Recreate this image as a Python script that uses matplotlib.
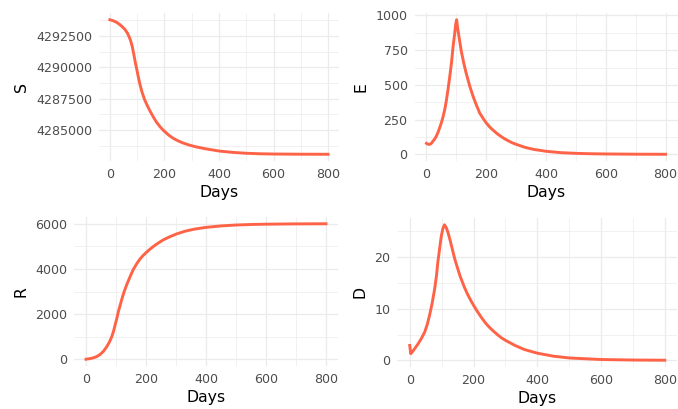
import matplotlib
matplotlib.use("Agg")
import matplotlib.pyplot as plt
from matplotlib.ticker import FixedLocator

# ---- data ----
s_days = [0, 12, 24, 35, 45, 55, 65, 75, 82, 88, 93, 98, 104, 110, 118, 128, 137, 146,
          158, 170, 184, 198, 215, 231, 250, 267, 290, 316, 350, 400, 450, 500, 550,
          600, 700, 800]
s_vals = [4293800, 4293720, 4293600, 4293430, 4293250, 4293030, 4292700, 4292200,
          4291650, 4291000, 4290400, 4289900, 4289250, 4288650, 4288000, 4287380,
          4286950, 4286560, 4286080, 4285650, 4285250, 4284930, 4284600, 4284350,
          4284130, 4283970, 4283800, 4283650, 4283500, 4283320, 4283210, 4283140,
          4283100, 4283080, 4283065, 4283060]

e_days = [0, 5, 10, 16, 22, 28, 33, 39, 44, 50, 56, 62, 67, 72, 78, 84, 89, 94, 98,
          101, 104, 109, 113, 117, 125, 133, 145, 156, 167, 178, 190, 200, 212, 225,
          237, 250, 262, 275, 287, 300, 330, 360, 400, 450, 500, 550, 600, 700, 800]
e_vals = [79, 73, 71, 78, 95, 112, 131, 160, 190, 228, 274, 330, 393, 465, 560, 665,
          774, 860, 940, 969, 915, 845, 790, 738, 655, 583, 490, 417, 355, 298, 257,
          226, 196, 170, 148, 128, 111, 96, 83, 72, 50, 35, 22, 12, 7, 4.3, 2.6, 1.0,
          0.4]

r_days = [0, 12, 24, 36, 47, 58, 69, 78, 86, 92, 97, 103, 108, 114, 119, 127, 136, 147,
          158, 170, 180, 190, 200, 212, 224, 240, 258, 280, 302, 330, 360, 400, 450,
          500, 550, 600, 700, 800]
r_vals = [0, 25, 60, 120, 210, 350, 550, 760, 1000, 1250, 1520, 1820, 2120, 2400, 2640,
          2990, 3310, 3660, 3985, 4250, 4440, 4590, 4720, 4860, 4990, 5140, 5290, 5430,
          5550, 5670, 5760, 5840, 5905, 5945, 5968, 5982, 5995, 6000]

d_days = [0, 3, 10, 18, 26, 36, 47, 55, 62, 70, 78, 84, 88, 94, 99, 104, 109, 114, 120,
          127, 135, 142, 150, 157, 165, 172, 180, 190, 200, 212, 225, 237, 250, 262,
          275, 287, 300, 330, 360, 400, 450, 500, 600, 700, 800]
d_vals = [2.9, 1.3, 1.8, 2.5, 3.2, 4.2, 5.5, 7.0, 8.7, 11.0, 13.8, 16.5, 19.0, 21.8,
          24.1, 25.6, 26.3, 25.8, 24.8, 23.2, 21.2, 19.5, 17.9, 16.5, 15.2, 14.1, 13.0,
          11.8, 10.7, 9.5, 8.3, 7.3, 6.4, 5.7, 5.0, 4.4, 3.9, 2.9, 2.1, 1.4, 0.82, 0.47,
          0.17, 0.07, 0.03]

x_ticks = [0, 200, 400, 600, 800]
x_minor = [100, 300, 500, 700]
s_ticks = [4285000, 4287500, 4290000, 4292500]
s_minor = [4283750, 4286250, 4288750, 4291250, 4293750]
e_ticks = [0, 250, 500, 750, 1000]
e_minor = [125, 375, 625, 875]
r_ticks = [0, 2000, 4000, 6000]
r_minor = [1000, 3000, 5000]
d_ticks = [0, 10, 20]
d_minor = [5, 15, 25]

LINE = "#FF6347"
W, H = 678, 409
fig = plt.figure(figsize=(W / 100, H / 100), dpi=100)
plt.rcParams['font.family'] = ['DejaVu Sans']


def make_ax(l, t, r, b):
    return fig.add_axes([l / W, 1 - b / H, (r - l) / W, (b - t) / H])


panels = [
    ((99, 13, 339, 161), s_days, s_vals, "S", s_ticks, s_minor),
    ((414.5, 13, 677.5, 161), e_days, e_vals, "E", e_ticks, e_minor),
    ((74, 217, 338, 366), r_days, r_vals, "R", r_ticks, r_minor),
    ((397, 218, 677.5, 367), d_days, d_vals, "D", d_ticks, d_minor),
]

for box, xs, ys, name, yt, ym in panels:
    ax = make_ax(*box)
    ax.plot(xs, ys, color=LINE, lw=2.1, solid_joinstyle="round", zorder=3)
    ax.set_xlim(-40, 840)
    lo, hi = min(ys), max(ys)
    pad = (hi - lo) * 0.05
    ax.set_ylim(lo - pad, hi + pad)
    ax.xaxis.set_major_locator(FixedLocator(x_ticks))
    ax.xaxis.set_minor_locator(FixedLocator(x_minor))
    ax.yaxis.set_major_locator(FixedLocator(yt))
    ax.yaxis.set_minor_locator(FixedLocator(ym))
    ax.set_xticklabels([str(v) for v in x_ticks])
    ax.set_yticklabels([str(v) for v in yt])
    ax.grid(which="major", color="#EBEBEB", lw=0.9)
    ax.grid(which="minor", color="#EBEBEB", lw=0.5)
    ax.set_axisbelow(True)
    for sp in ax.spines.values():
        sp.set_visible(False)
    ax.tick_params(which="both", length=0)
    ax.tick_params(axis="both", labelsize=9.1, labelcolor="#4D4D4D")
    ax.tick_params(axis="x", pad=5)
    ax.tick_params(axis="y", pad=5)
    ax.set_xlabel("Days", fontsize=11.3, color="black", labelpad=3)
    ax.set_ylabel(name, fontsize=11.3, color="black", labelpad=5)

fig.savefig("out.png", dpi=100)
